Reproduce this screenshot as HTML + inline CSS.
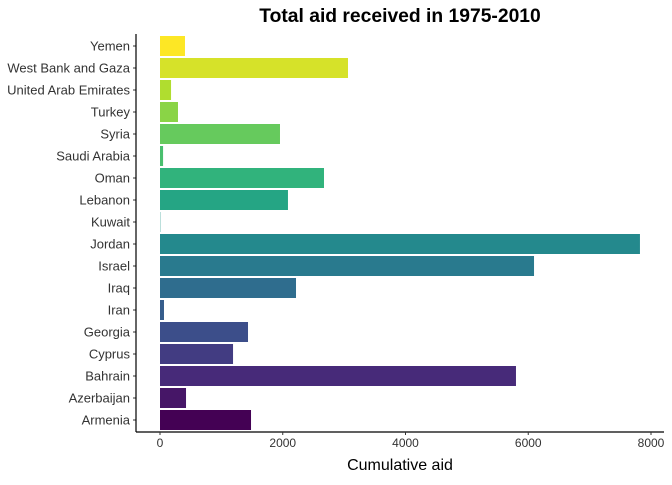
<!DOCTYPE html>
<html><head><meta charset="utf-8"><style>
body{margin:0;background:#fff;font-family:"Liberation Sans",Arial,sans-serif}
</style></head><body>
<svg id="chart" width="672" height="480" xmlns="http://www.w3.org/2000/svg"></svg>
<script>
const categories=["Armenia","Azerbaijan","Bahrain","Cyprus","Georgia","Iran","Iraq","Israel","Jordan","Kuwait","Lebanon","Oman","Saudi Arabia","Syria","Turkey","United Arab Emirates","West Bank and Gaza","Yemen"];
const values=[1483,424,5800,1190,1434,65,2216,6094,7820,5,2085,2672,50,1955,293,180,3063,407];
const xTicks=[0,2000,4000,6000,8000];
const viridis=[[68,1,84],[72,40,120],[62,74,137],[49,104,142],[38,130,142],[31,158,137],[53,183,121],[109,205,89],[180,222,44],[253,231,37]];
function vcol(t){const s=t*(viridis.length-1),i=Math.min(Math.floor(s),viridis.length-2),f=s-i;
const c=viridis[i].map((v,k)=>Math.round(v+(viridis[i+1][k]-v)*f));return `rgb(${c})`;}
const x0=160,x1=651,ax=136,axY=432;
const xs=v=>x0+(v/8000)*(x1-x0);
const yc=i=>420-i*22;
const svg=document.getElementById('chart');const NS="http://www.w3.org/2000/svg";
function el(t,a,txt){const e=document.createElementNS(NS,t);for(const k in a)e.setAttribute(k,a[k]);if(txt!=null)e.textContent=txt;svg.appendChild(e);return e;}
categories.forEach((c,i)=>{
 const r=el('rect',{x:xs(0),y:yc(i)-10,width:Math.max(0,xs(values[i])-xs(0)),height:20,fill:vcol(i/(categories.length-1))});
 
 
 const t=el('text',{x:ax-6,y:yc(i)+4.5,'text-anchor':'end','font-size':13,fill:'#333'},c);
 
 
 el('line',{x1:ax-3,x2:ax,y1:yc(i),y2:yc(i),stroke:'#333'});
});
let a=el('line',{x1:ax,x2:ax,y1:34,y2:axY,stroke:'#000','stroke-width':1.2});

a=el('line',{x1:ax,x2:664,y1:axY,y2:axY,stroke:'#000','stroke-width':1.2});

xTicks.forEach(v=>{el('line',{x1:xs(v),x2:xs(v),y1:axY,y2:axY+3,stroke:'#333'});
 const t=el('text',{x:xs(v),y:axY+15,'text-anchor':'middle','font-size':12,fill:'#333'},v);
 });
let t=el('text',{x:400,y:470,'text-anchor':'middle','font-size':16,fill:'#000'},'Cumulative aid');

t=el('text',{x:400,y:22,'text-anchor':'middle','font-size':19.3,'font-weight':'bold',fill:'#000'},'Total aid received in 1975-2010');

</script>
</body></html>
